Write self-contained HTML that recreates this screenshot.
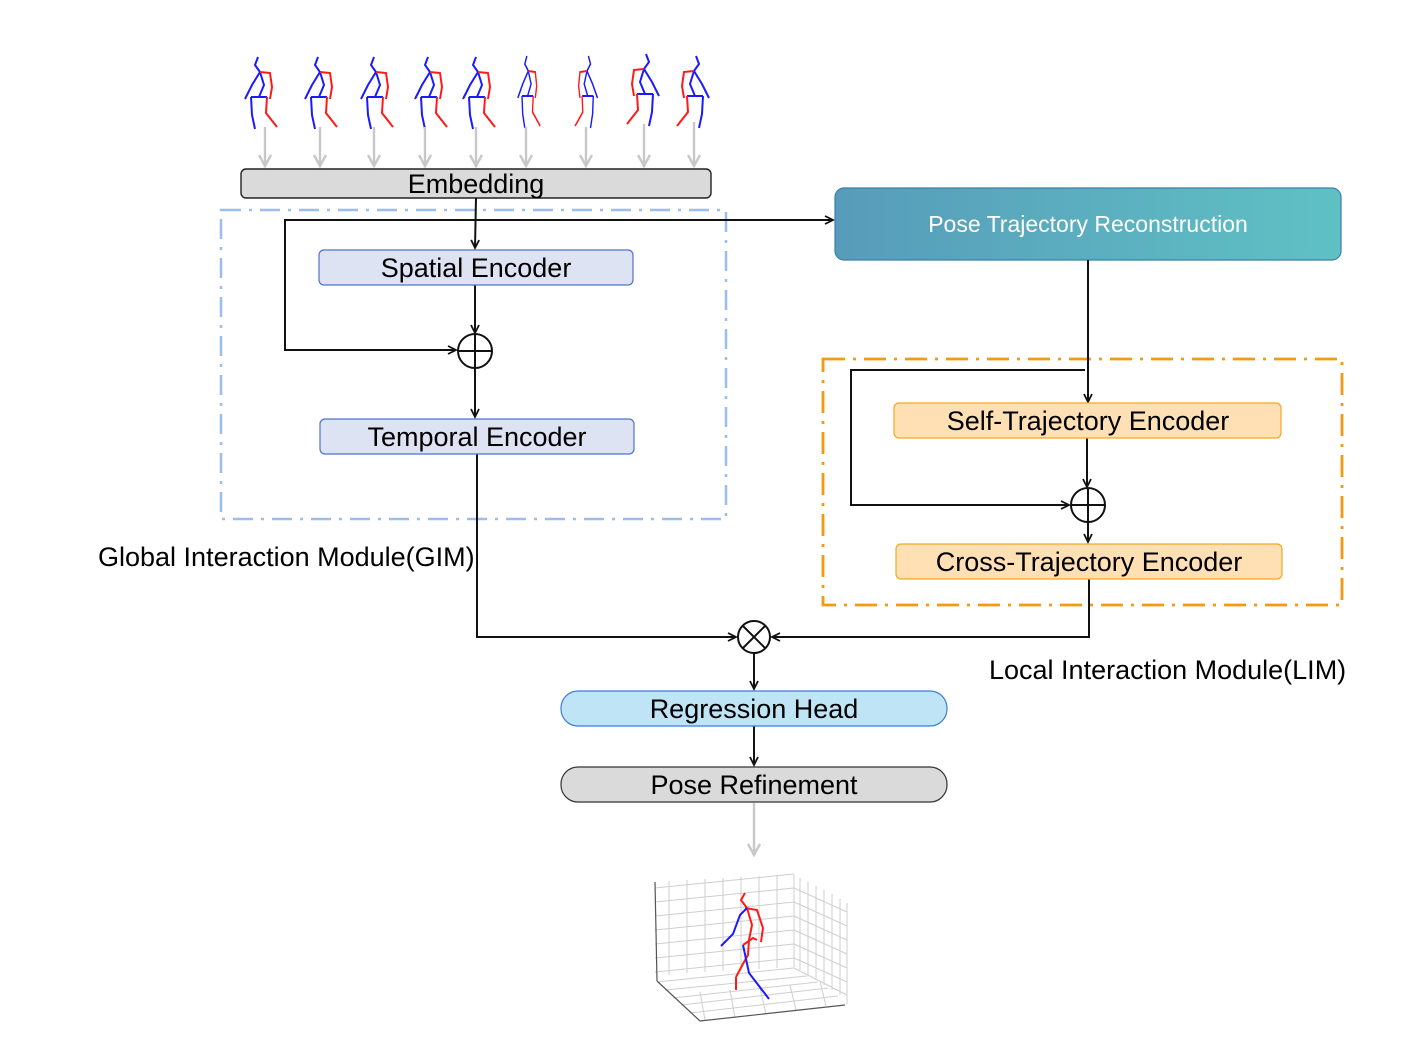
<!DOCTYPE html>
<html><head><meta charset="utf-8"><style>
html,body{margin:0;padding:0;background:#fff;}
svg{display:block;}
text{font-family:"Liberation Sans",Arial,sans-serif;}
</style></head><body>
<svg width="1416" height="1056" viewBox="0 0 1416 1056" xmlns="http://www.w3.org/2000/svg">
<defs>
<marker id="ah" markerWidth="12" markerHeight="12" refX="9" refY="5" orient="auto" markerUnits="userSpaceOnUse">
<path d="M1,1 L9,5 L1,9" fill="none" stroke="#111" stroke-width="1.8"/></marker>
<marker id="ag" markerWidth="16" markerHeight="16" refX="12" refY="7" orient="auto" markerUnits="userSpaceOnUse">
<path d="M1,1 L12,7 L1,13" fill="none" stroke="#c8c8c8" stroke-width="2.4"/></marker>
<linearGradient id="pg" x1="0" x2="1" y1="0" y2="0"><stop offset="0" stop-color="#579cba"/><stop offset="1" stop-color="#5fc1c4"/></linearGradient>
<g id="sk" fill="none" stroke-width="2">
<polyline points="0,0 -3,8 2,15" stroke="#1a1aff"/>
<polyline points="2,15 -6,28 -13,42" stroke="#1a1aff"/>
<polyline points="2,15 6,28 1,40" stroke="#1a1aff"/>
<polyline points="2,15 12,16 14,30 12,42" stroke="#ff1a1a"/>
<polyline points="-7,40 9,40" stroke="#1a1aff"/>
<polyline points="-7,40 -6,58 -3,72" stroke="#1a1aff"/>
<polyline points="9,40 8,56 19,70" stroke="#ff1a1a"/>
</g>
</defs>

<use href="#sk" x="258" y="57"/>
<use href="#sk" x="318" y="57"/>
<use href="#sk" x="374" y="57"/>
<use href="#sk" x="428" y="57"/>
<use href="#sk" x="476" y="57"/>
<use href="#sk" x="527" y="56" transform="matrix(0.7,0,0,1,158,0)"/>
<use href="#sk" x="588" y="56" transform="matrix(-0.7,0,0,1,1000,0)"/>
<use href="#sk" x="646" y="54" transform="matrix(-1,0,0,1,1292,0)"/>
<use href="#sk" x="696" y="56" transform="matrix(-1,0,0,1,1392,0)"/>

<g stroke="#c8c8c8" stroke-width="2.4" marker-end="url(#ag)">
<line x1="265" y1="127" x2="265" y2="166"/><line x1="320" y1="127" x2="320" y2="166"/>
<line x1="374" y1="127" x2="374" y2="166"/><line x1="425" y1="127" x2="425" y2="166"/>
<line x1="476" y1="127" x2="476" y2="166"/><line x1="526" y1="127" x2="526" y2="166"/>
<line x1="586" y1="127" x2="586" y2="166"/><line x1="644" y1="124" x2="644" y2="166"/>
<line x1="694" y1="122" x2="694" y2="166"/>
<line x1="754" y1="803" x2="754" y2="855"/>
</g>

<rect x="241" y="169" width="470" height="29" rx="5" fill="#dadada" stroke="#222" stroke-width="1.4"/>
<text x="476" y="193" font-size="27" text-anchor="middle">Embedding</text>

<rect x="221" y="210" width="505" height="309" fill="none" stroke="#9dbdee" stroke-width="2.5" stroke-dasharray="20,8,3,8"/>

<g stroke="#111" stroke-width="2" fill="none">
<line x1="476" y1="198" x2="475" y2="248" marker-end="url(#ah)"/>
<polyline points="833,220 285,220 285,350 456,350" marker-end="url(#ah)"/>
<line x1="476" y1="220" x2="833" y2="220" marker-end="url(#ah)"/>
<line x1="475" y1="285" x2="475" y2="333" marker-end="url(#ah)"/>
<line x1="475" y1="368" x2="475" y2="417" marker-end="url(#ah)"/>
<polyline points="477,454 477,637 736,637" marker-end="url(#ah)"/>
</g>
<circle cx="475" cy="351" r="17" fill="#fff" stroke="#111" stroke-width="2"/>
<path d="M458,351 H492 M475,334 V368" stroke="#111" stroke-width="2"/>

<rect x="319" y="250" width="314" height="35" rx="5" fill="#dde3f2" stroke="#4d74c9" stroke-width="1.2"/>
<text x="476" y="277" font-size="27" text-anchor="middle">Spatial Encoder</text>
<rect x="320" y="419" width="314" height="35" rx="5" fill="#dde3f2" stroke="#4d74c9" stroke-width="1.2"/>
<text x="477" y="446" font-size="27" text-anchor="middle">Temporal Encoder</text>

<text x="98" y="566" font-size="27">Global Interaction Module(GIM)</text>

<rect x="835" y="188" width="506" height="72" rx="9" fill="url(#pg)" stroke="#3b7fa6" stroke-width="1.2"/>
<text x="1088" y="232" font-size="23" fill="#fff" text-anchor="middle">Pose Trajectory Reconstruction</text>

<rect x="823" y="359" width="519" height="246" fill="none" stroke="#f39a12" stroke-width="2.8" stroke-dasharray="22,8,3,8"/>

<g stroke="#111" stroke-width="2" fill="none">
<line x1="1088" y1="260" x2="1088" y2="402" marker-end="url(#ah)"/>
<polyline points="1085,370 851,370 851,505 1069,505" marker-end="url(#ah)"/>
<line x1="1087" y1="438" x2="1087" y2="487" marker-end="url(#ah)"/>
<line x1="1088" y1="522" x2="1088" y2="542" marker-end="url(#ah)"/>
<polyline points="1089,579 1089,637 772,637" marker-end="url(#ah)"/>
<line x1="754" y1="653" x2="754" y2="689" marker-end="url(#ah)"/>
<line x1="754" y1="726" x2="754" y2="765" marker-end="url(#ah)"/>
</g>
<circle cx="1088" cy="505" r="17" fill="#fff" stroke="#111" stroke-width="2"/>
<path d="M1071,505 H1105 M1088,488 V522" stroke="#111" stroke-width="2"/>

<rect x="894" y="403" width="387" height="35" rx="5" fill="#ffe0b4" stroke="#f5a623" stroke-width="1.2"/>
<text x="1088" y="430" font-size="27" text-anchor="middle">Self-Trajectory Encoder</text>
<rect x="896" y="544" width="386" height="35" rx="5" fill="#ffe0b4" stroke="#f5a623" stroke-width="1.2"/>
<text x="1089" y="571" font-size="27" text-anchor="middle">Cross-Trajectory Encoder</text>

<text x="989" y="679" font-size="27">Local Interaction Module(LIM)</text>

<circle cx="754" cy="637" r="16" fill="#fff" stroke="#111" stroke-width="2"/>
<path d="M743,626 L765,648 M765,626 L743,648" stroke="#111" stroke-width="2"/>

<rect x="561" y="691" width="386" height="35" rx="17" fill="#bfe4f6" stroke="#3b7dd8" stroke-width="1.2"/>
<text x="754" y="718" font-size="27" text-anchor="middle">Regression Head</text>
<rect x="561" y="767" width="386" height="35" rx="17" fill="#dadada" stroke="#333" stroke-width="1.2"/>
<text x="754" y="794" font-size="27" text-anchor="middle">Pose Refinement</text>

<g stroke="#cfcfcf" stroke-width="1" fill="none">
<line x1="669" y1="881" x2="669" y2="975"/><line x1="687" y1="880" x2="687" y2="973"/>
<line x1="705" y1="879" x2="705" y2="972"/><line x1="723" y1="878" x2="723" y2="971"/>
<line x1="741" y1="877" x2="741" y2="970"/><line x1="759" y1="876" x2="759" y2="969"/>
<line x1="777" y1="875" x2="777" y2="968"/><line x1="794" y1="874" x2="794" y2="967"/>
<line x1="800" y1="878" x2="800" y2="970"/><line x1="808" y1="882" x2="808" y2="975"/>
<line x1="816" y1="886" x2="816" y2="980"/><line x1="824" y1="890" x2="824" y2="985"/>
<line x1="832" y1="894" x2="832" y2="990"/><line x1="840" y1="899" x2="840" y2="995"/>
<line x1="847" y1="903" x2="847" y2="1004"/>
<line x1="655" y1="888" x2="794" y2="874"/><line x1="655" y1="902" x2="794" y2="888"/>
<line x1="655" y1="916" x2="794" y2="902"/><line x1="655" y1="930" x2="794" y2="916"/>
<line x1="655" y1="944" x2="794" y2="930"/><line x1="655" y1="958" x2="794" y2="944"/>
<line x1="655" y1="972" x2="794" y2="958"/>
<line x1="794" y1="888" x2="847" y2="912"/><line x1="794" y1="902" x2="847" y2="926"/>
<line x1="794" y1="916" x2="847" y2="940"/><line x1="794" y1="930" x2="847" y2="954"/>
<line x1="794" y1="944" x2="847" y2="968"/><line x1="794" y1="958" x2="847" y2="982"/>
<line x1="657" y1="982" x2="794" y2="968"/><line x1="794" y1="968" x2="847" y2="995"/>
<line x1="665" y1="990" x2="807" y2="976"/><line x1="673" y1="998" x2="818" y2="982"/>
<line x1="681" y1="1005" x2="828" y2="988"/><line x1="690" y1="1013" x2="838" y2="996"/>
<line x1="700" y1="992" x2="705" y2="1020"/><line x1="730" y1="990" x2="735" y2="1018"/>
<line x1="760" y1="988" x2="766" y2="1014"/><line x1="790" y1="985" x2="796" y2="1010"/>
<line x1="820" y1="981" x2="826" y2="1006"/>
</g>
<g stroke="#555" stroke-width="1.2" fill="none">
<line x1="655" y1="882" x2="657" y2="981"/>
<polyline points="657,981 700,1021 845,1005"/>
</g>
<g fill="none" stroke-width="2">
<polyline points="745,893 741,900 747,908 752,925 749,940 748,955 744,962 736,977" stroke="#ff1a1a"/>
<polyline points="745,908 757,910 763,928 761,942" stroke="#ff1a1a"/>
<polyline points="743,945 753,938 757,940" stroke="#ff1a1a"/>
<polyline points="747,908 740,915 733,934 721,946" stroke="#1a1aff"/>
<polyline points="743,945 749,973 769,999" stroke="#1a1aff"/>
<polyline points="736,977 736,990" stroke="#ff1a1a"/>
</g>
</svg>
</body></html>
